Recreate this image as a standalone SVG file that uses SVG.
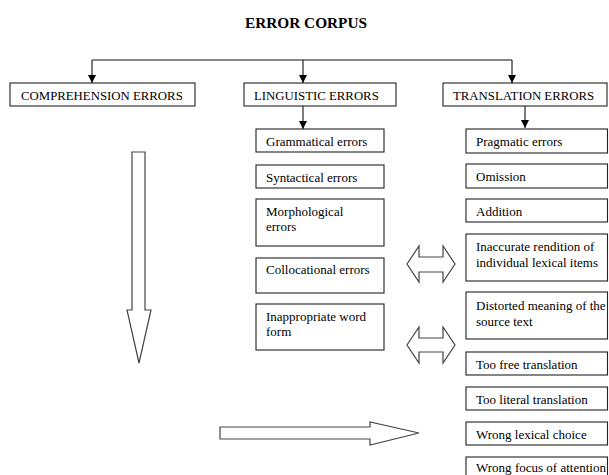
<svg xmlns="http://www.w3.org/2000/svg" width="609" height="475" viewBox="0 0 609 475">
<defs>
<marker id="ah" viewBox="0 0 8 10" refX="8" refY="5" markerWidth="8" markerHeight="10" markerUnits="userSpaceOnUse" orient="auto">
<path d="M0,1 L8,5 L0,9 Z" fill="#000"/>
</marker>
<style>
.b{fill:#fff;stroke:#222;stroke-width:1.1}
.t{font-family:"Liberation Serif","Times New Roman",serif;font-size:13px;fill:#000}
.c{font-family:"Liberation Serif","Times New Roman",serif;font-size:12.8px;fill:#000}
.ln{fill:none;stroke:#111;stroke-width:1.1}
.blk{fill:#fff;stroke:#444;stroke-width:1.2;stroke-linejoin:miter}
</style>
</defs>
<rect width="609" height="475" fill="#fff"/>
<text x="306" y="28" text-anchor="middle" font-family="Liberation Serif, Times New Roman, serif" font-weight="bold" font-size="15.3">ERROR CORPUS</text>

<g id="connectors">
<path class="ln" d="M92,60 H512"/>
<path class="ln" d="M92,60 V83" marker-end="url(#ah)"/>
<path class="ln" d="M303,60 V83" marker-end="url(#ah)"/>
<path class="ln" d="M512,60 V83" marker-end="url(#ah)"/>
<path class="ln" d="M303,106 V129" marker-end="url(#ah)"/>
<path class="ln" d="M525,106 V128" marker-end="url(#ah)"/>
<path class="blk" d="M132,152 H145 V310 H151 L139,363 L127,310 H132 Z"/>
<path class="blk" d="M220,427 H370 V422 L419,433 L370,445 V439 H220 Z"/>
<path class="blk" d="M407,264 L419,246 V257 H443 V246 L455,264 L443,282 V272 H419 V282 Z"/>
<path class="blk" d="M407,345 L419,327 V338 H443 V327 L455,345 L443,363 V352 H419 V363 Z"/>
</g>

<g id="comprehension"><rect class="b" x="10" y="83" width="185" height="23"/><text class="c" x="21" y="100">COMPREHENSION ERRORS</text></g>
<g id="linguistic"><rect class="b" x="244" y="83" width="152" height="23"/><text class="c" x="254" y="100">LINGUISTIC ERRORS</text></g>
<g id="translation"><rect class="b" x="443" y="83" width="164" height="23"/><text class="c" x="453" y="100">TRANSLATION ERRORS</text></g>

<g id="grammatical"><rect class="b" x="256" y="129" width="128" height="23"/><text class="t" x="266" y="146">Grammatical errors</text></g>
<g id="syntactical"><rect class="b" x="256" y="165" width="128" height="23"/><text class="t" x="266" y="182">Syntactical errors</text></g>
<g id="morphological"><rect class="b" x="256" y="199" width="128" height="47"/><text class="t" x="266" y="216">Morphological</text><text class="t" x="266" y="231">errors</text></g>
<g id="collocational"><rect class="b" x="256" y="258" width="128" height="35"/><text class="t" x="266" y="274">Collocational errors</text></g>
<g id="wordform"><rect class="b" x="256" y="304" width="128" height="46"/><text class="t" x="266" y="321">Inappropriate word</text><text class="t" x="266" y="336">form</text></g>

<g id="pragmatic"><rect class="b" x="466" y="129" width="141.5" height="24"/><text class="t" x="476" y="146">Pragmatic errors</text></g>
<g id="omission"><rect class="b" x="466" y="164" width="141.5" height="24"/><text class="t" x="476" y="181">Omission</text></g>
<g id="addition"><rect class="b" x="466" y="199" width="141.5" height="23"/><text class="t" x="476" y="216">Addition</text></g>
<g id="inaccurate"><rect class="b" x="466" y="234" width="141.5" height="47"/><text class="t" x="476" y="251">Inaccurate rendition of</text><text class="t" x="476" y="267">individual lexical items</text></g>
<g id="distorted"><rect class="b" x="466" y="292" width="141.5" height="47"/><text class="t" x="476" y="310">Distorted meaning of the</text><text class="t" x="476" y="326">source text</text></g>
<g id="toofree"><rect class="b" x="466" y="352" width="141.5" height="23"/><text class="t" x="476" y="369">Too free translation</text></g>
<g id="tooliteral"><rect class="b" x="466" y="387" width="141.5" height="23"/><text class="t" x="476" y="404">Too literal translation</text></g>
<g id="lexicalchoice"><rect class="b" x="466" y="422" width="141.5" height="23"/><text class="t" x="476" y="439">Wrong lexical choice</text></g>
<g id="focus"><rect class="b" x="466" y="457" width="141.5" height="30"/><text class="t" x="476" y="472" textLength="130" lengthAdjust="spacingAndGlyphs">Wrong focus of attention</text></g>
</svg>
